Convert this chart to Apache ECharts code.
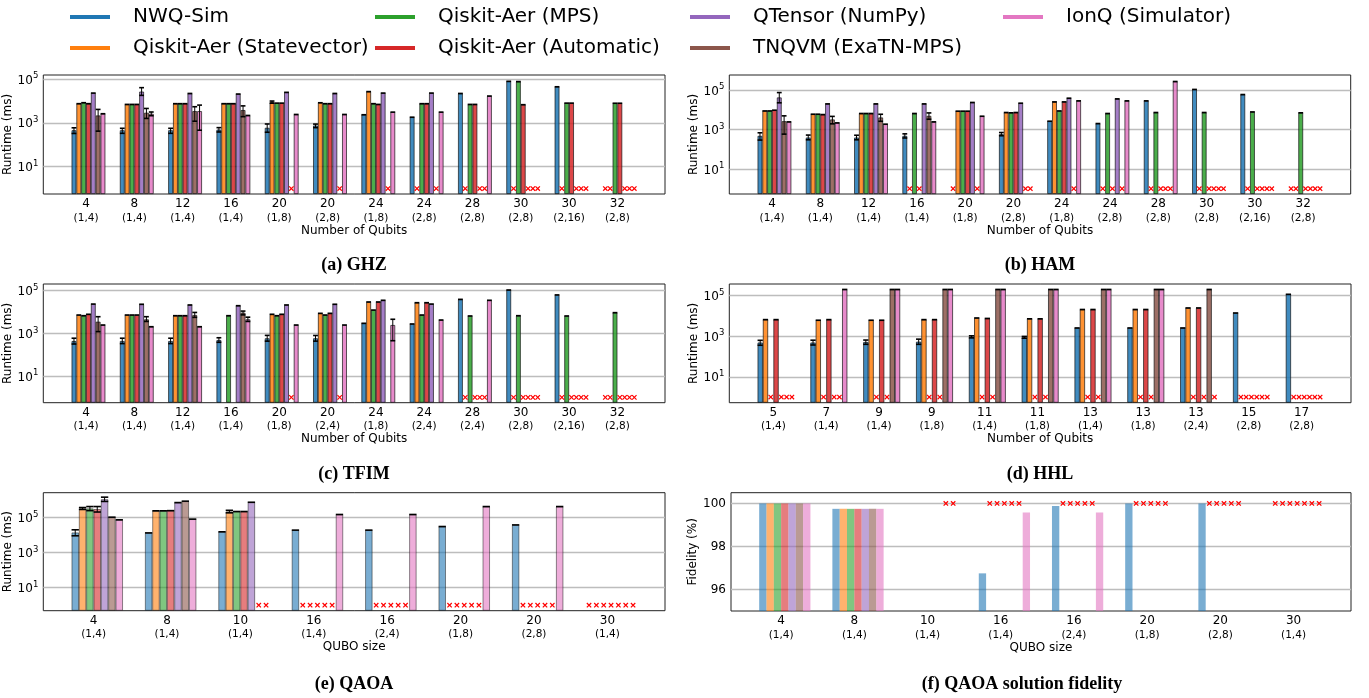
<!DOCTYPE html>
<html><head><meta charset="utf-8">
<script src="https://cdn.jsdelivr.net/npm/echarts@6/dist/echarts.min.js"></script>
<style>html,body{margin:0;padding:0;background:#fff}#c{width:1369px;height:698px}</style>
</head><body><div id="c"></div>
<script>
// ---------------- DATA ----------------
const simulators = ['NWQ-Sim','Qiskit-Aer (Statevector)','Qiskit-Aer (MPS)','Qiskit-Aer (Automatic)','QTensor (NumPy)','TNQVM (ExaTN-MPS)','IonQ (Simulator)'];
const X = 'x'; // run failed / not supported marker

// (a) GHZ
const ghzQubits  = [4,8,12,16,20,20,24,24,28,30,30,32];
const ghzConfigs = ['(1,4)','(1,4)','(1,4)','(1,4)','(1,8)','(2,8)','(1,8)','(2,8)','(2,8)','(2,8)','(2,16)','(2,8)'];
const ghzNWQ   = [457,457,457,490,590,750,2330,1800,21800,78000,44000,X];
const ghzSV    = [7450,6900,7450,7450,8800,8200,26500,X,X,X,X,X];
const ghzMPS   = [8250,6900,7450,7450,7900,7450,7450,7450,6900,76000,7900,7800];
const ghzAuto  = [7450,6900,7450,7450,7900,7450,6900,7450,6900,6700,7900,7800];
const ghzQT    = [22700,26500,21800,20500,24500,21800,22700,22700,X,X,X,X];
const ghzTN    = [2160,2870,3400,3800,X,X,X,X,X,X,X,X];
const ghzIonQ  = [2590,2590,3400,2160,2400,2400,3070,3070,16600,X,X,X];
const ghzErr   = [[0,0,325,590],[0,1,330,560],[0,2,330,560],[0,3,380,600],[0,4,370,880],[0,5,600,870],
                  [1,4,7800,9800],[4,1,17800,40000],
                  [5,0,415,4070],[5,1,1580,4500],[5,2,1180,5400],[5,3,1900,5900],
                  [6,1,2100,3100],[6,2,457,6400]];

// (b) HAM
const hamQubits  = [4,8,12,16,20,20,24,24,28,30,30,32];
const hamConfigs = ['(1,4)','(1,4)','(1,4)','(1,4)','(1,8)','(2,8)','(1,8)','(2,8)','(2,8)','(2,8)','(2,16)','(2,8)'];
const hamNWQ   = [475,390,390,475,X,580,2630,2000,28200,107000,59000,X];
const hamSV    = [8700,5950,6460,X,8470,7250,25000,X,X,X,X,X];
const hamMPS   = [8700,5950,6460,6460,8470,7000,8700,6460,7250,7250,7750,7000];
const hamAuto  = [9500,5700,6460,X,8470,7250,25000,X,X,X,X,X];
const hamQT    = [42000,19800,19800,19800,23400,21500,38500,35500,X,X,X,X];
const hamTN    = [2630,3220,4060,4900,X,X,X,X,X,X,X,X];
const hamIonQ  = [2430,2160,1860,2430,4700,X,28200,28200,270000,X,X,X];
const hamErr   = [[0,0,290,680],[0,1,300,520],[0,2,300,510],[0,3,370,600],[0,5,480,700],
                  [4,0,22400,74000],[5,0,580,4900],[5,1,1930,4600],[5,2,2600,5900],[5,3,3300,6900]];

// (c) TFIM
const tfimQubits  = [4,8,12,16,20,20,24,24,28,30,30,32];
const tfimConfigs = ['(1,4)','(1,4)','(1,4)','(1,4)','(1,8)','(2,4)','(1,8)','(2,4)','(2,4)','(2,8)','(2,16)','(2,8)'];
const tfimNWQ   = [435,435,435,485,585,585,2950,2740,39000,107000,63000,X];
const tfimSV    = [7200,7200,6700,null,7800,8650,29400,27200,X,X,X,X];
const tfimMPS   = [6700,7200,6700,6700,6700,7200,12300,7200,6500,6700,6500,9300];
const tfimAuto  = [7800,7200,6700,null,7800,8650,29400,27200,X,X,X,X];
const tfimQT    = [23500,23000,21300,19700,21300,23000,35300,23500,X,X,X,X];
const tfimTN    = [3500,4520,7200,9300,X,X,null,null,X,X,X,X];
const tfimIonQ  = [2450,2040,2040,4520,2450,2450,2450,4200,35300,X,X,X];
const tfimErr   = [[0,0,315,590],[0,1,330,590],[0,2,330,590],[0,3,380,620],[0,4,430,800],[0,5,430,790],
                   [5,0,1200,6000],[5,1,3600,6000],[5,2,5600,9500],[5,3,7300,11000],
                   [6,3,3600,5700],[6,6,450,4550]];

// (d) HHL
const hhlQubits  = [5,7,9,9,11,11,13,13,13,15,17];
const hhlConfigs = ['(1,4)','(1,4)','(1,4)','(1,8)','(1,4)','(1,8)','(1,4)','(1,8)','(2,4)','(2,8)','(2,8)'];
const hhlNWQ   = [490,490,520,540,930,880,2570,2570,2570,14100,118000];
const hhlSV    = [6650,6200,6200,6650,8000,7300,21000,21000,25000,X,X];
const hhlMPS   = [X,X,X,X,X,X,X,X,X,X,X];
const hhlAuto  = [6650,6650,6200,6650,7600,7300,21000,21000,25000,X,X];
const hhlQT    = [X,X,X,X,X,X,X,X,X,X,X];
const hhlTN    = [X,X,205000,205000,205000,205000,205000,205000,205000,X,X];
const hhlIonQ  = [X,205000,205000,205000,205000,205000,205000,205000,X,X,X];
const hhlErr   = [[0,0,360,630],[0,1,370,640],[0,2,400,650],[0,3,400,720],[0,4,830,1050],[0,5,800,980]];

// (e) QAOA runtime
const qaoaSize    = [4,8,10,16,16,20,20,30];
const qaoaConfigs = ['(1,4)','(1,4)','(1,4)','(1,4)','(2,4)','(1,8)','(2,8)','(1,4)'];
const qaoaNWQ   = [13700,13000,15000,18700,18700,30000,37000,X];
const qaoaSV    = [320000,234000,214000,X,X,X,X,X];
const qaoaMPS   = [320000,234000,214000,X,X,X,X,X];
const qaoaAuto  = [295000,240000,214000,X,X,X,X,X];
const qaoaQT    = [1070000,690000,720000,X,X,X,X,X];
const qaoaTN    = [102000,830000,X,X,X,X,X,X];
const qaoaIonQ  = [72000,79000,X,145000,145000,410000,410000,X];
const qaoaErr   = [[0,0,8900,19500],[1,0,280000,360000],[2,0,240000,410000],[3,0,200000,410000],
                   [4,0,800000,1400000],[1,2,180000,250000]];

// (f) QAOA solution fidelity (%)
const fidNWQ   = [100,99.75,null,96.75,99.88,100,100,X];
const fidSV    = [100,99.75,null,X,X,X,X,X];
const fidMPS   = [100,99.75,null,X,X,X,X,X];
const fidAuto  = [100,99.75,null,X,X,X,X,X];
const fidQT    = [100,99.75,null,X,X,X,X,X];
const fidTN    = [100,99.75,X,X,X,X,X,X];
const fidIonQ  = [100,99.75,X,99.58,99.58,null,null,X];

// ---------------- STYLE / LAYOUT ----------------
const COLORS = ['#1f77b4','#ff7f0e','#2ca02c','#d62728','#9467bd','#8c564b','#e377c2'];
const FONT = 'DejaVu Sans';
const BAR_FRAC = 0.1;    // one bar = 0.1 of the category spacing
const LABEL_SHIFT = -0.05;

const panels = [
  {vals:[ghzNWQ,ghzSV,ghzMPS,ghzAuto,ghzQT,ghzTN,ghzIonQ], err:ghzErr, cats:ghzQubits, cfg:ghzConfigs,
   grid:{left:43.3,top:75,width:621.7,height:119}, ylog:true, ymin:Math.pow(10,-0.25), ymax:Math.pow(10,5.18),
   yticks:[10,1000,100000], xname:'Number of Qubits', yname:'Runtime (ms)', alpha:0.85, edge:true, caps:true, failY:1,
   caption:'(a) GHZ', cap:[354,265]},
  {vals:[hamNWQ,hamSV,hamMPS,hamAuto,hamQT,hamTN,hamIonQ], err:hamErr, cats:hamQubits, cfg:hamConfigs,
   grid:{left:729.3,top:75,width:621.4,height:119}, ylog:true, ymin:Math.pow(10,-0.27), ymax:Math.pow(10,5.76),
   yticks:[10,1000,100000], xname:'Number of Qubits', yname:'Runtime (ms)', alpha:0.85, edge:true, caps:true, failY:1,
   caption:'(b) HAM', cap:[1040,265]},
  {vals:[tfimNWQ,tfimSV,tfimMPS,tfimAuto,tfimQT,tfimTN,tfimIonQ], err:tfimErr, cats:tfimQubits, cfg:tfimConfigs,
   grid:{left:43.3,top:284,width:621.7,height:118.7}, ylog:true, ymin:Math.pow(10,-0.25), ymax:Math.pow(10,5.31),
   yticks:[10,1000,100000], xname:'Number of Qubits', yname:'Runtime (ms)', alpha:0.85, edge:true, caps:true, failY:1,
   caption:'(c) TFIM', cap:[354,474]},
  {vals:[hhlNWQ,hhlSV,hhlMPS,hhlAuto,hhlQT,hhlTN,hhlIonQ], err:hhlErr, cats:hhlQubits, cfg:hhlConfigs,
   grid:{left:729.3,top:284,width:621.7,height:118.7}, ylog:true, ymin:Math.pow(10,-0.28), ymax:Math.pow(10,5.58),
   yticks:[10,1000,100000], xname:'Number of Qubits', yname:'Runtime (ms)', alpha:0.85, edge:true, caps:true, failY:1,
   caption:'(d) HHL', cap:[1040,474]},
  {vals:[qaoaNWQ,qaoaSV,qaoaMPS,qaoaAuto,qaoaQT,qaoaTN,qaoaIonQ], err:qaoaErr, cats:qaoaSize, cfg:qaoaConfigs,
   grid:{left:43.3,top:492.7,width:621.7,height:118}, ylog:true, ymin:Math.pow(10,-0.31), ymax:Math.pow(10,6.40),
   yticks:[10,1000,100000], xname:'QUBO size', yname:'Runtime (ms)', alpha:0.6, edge:true, caps:true, failY:1,
   caption:'(e) QAOA', cap:[354,684]},
  {vals:[fidNWQ,fidSV,fidMPS,fidAuto,fidQT,fidTN,fidIonQ], err:[], cats:qaoaSize, cfg:qaoaConfigs,
   grid:{left:731,top:492.7,width:620,height:118.3}, ylog:false, ymin:95, ymax:100.5,
   yticks:[96,98,100], xname:'QUBO size', yname:'Fidelity (%)', alpha:0.6, edge:false, caps:false, failY:100,
   caption:'(f) QAOA solution fidelity', cap:[1022,684]}
];

function capRender(params, api) {
  const x = api.value(0), lo = api.value(1), hi = api.value(2), slot = api.value(3);
  const bw = api.size([1, 0])[0] * BAR_FRAC;
  const a = api.coord([x, lo]), b = api.coord([x, hi]);
  const cx = a[0] + (slot - 3) * bw, hw = bw * 0.5;
  const st = {stroke: '#000', lineWidth: 1.6};
  const kids = [{type:'line', shape:{x1:cx-hw, y1:b[1], x2:cx+hw, y2:b[1]}, style:st}];
  if (Math.abs(a[1] - b[1]) > 1) {
    kids.push({type:'line', shape:{x1:cx, y1:a[1], x2:cx, y2:b[1]}, style:{stroke:'#000', lineWidth:1}});
    kids.push({type:'line', shape:{x1:cx-hw, y1:a[1], x2:cx+hw, y2:a[1]}, style:st});
  }
  return {type:'group', children:kids};
}
function failRender(params, api) {
  const x = api.value(0), y = api.value(1), slot = api.value(2);
  const bw = api.size([1, 0])[0] * BAR_FRAC;
  const p = api.coord([x, y]);
  const cx = p[0] + (slot - 3) * bw, cy = p[1], r = 2.2;
  const st = {stroke:'#ff0000', lineWidth:1.2};
  return {type:'group', children:[
    {type:'line', shape:{x1:cx-r, y1:cy-r, x2:cx+r, y2:cy+r}, style:st},
    {type:'line', shape:{x1:cx-r, y1:cy+r, x2:cx+r, y2:cy-r}, style:st}]};
}

const option = {animation:false, backgroundColor:'#fff', textStyle:{fontFamily:FONT},
  grid:[], xAxis:[], yAxis:[], series:[], legend:[], graphic:[]};

panels.forEach((P, g) => {
  const n = P.cats.length;
  const margin = 0.05 * ((n - 1) + 7 * BAR_FRAC) + 3.5 * BAR_FRAC;
  option.grid.push(Object.assign({show:true, borderColor:'#222', borderWidth:1, backgroundColor:'transparent'}, P.grid));
  option.xAxis.push({type:'value', gridIndex:g, min:-margin, max:(n - 1) + margin,
    axisLine:{show:false}, axisTick:{show:false}, splitLine:{show:false},
    name:P.xname, nameLocation:'middle', nameGap:29, nameTextStyle:{fontSize:12, color:'#000', fontFamily:FONT},
    axisLabel:{customValues:P.cats.map((c, k) => k + LABEL_SHIFT), margin:3, color:'#000',
      formatter:(v) => { const k = Math.round(v); return '{a|' + P.cats[k] + '}\n{b|' + P.cfg[k] + '}'; },
      rich:{a:{fontSize:12, lineHeight:14, fontFamily:FONT, color:'#000'},
            b:{fontSize:10.5, lineHeight:14, fontFamily:FONT, color:'#000'}}}});
  const yA = {type:P.ylog ? 'log' : 'value', gridIndex:g, min:P.ymin, max:P.ymax, startValue:P.ymin,
    axisLine:{show:false}, axisTick:{show:false, customValues:P.yticks},
    splitLine:{show:true, lineStyle:{color:'#bdbdbd', width:1.3}},
    name:P.yname, nameLocation:'middle', nameGap:P.ylog ? 23 : 25, nameTextStyle:{fontSize:12, color:'#000', fontFamily:FONT},
    axisLabel:{customValues:P.yticks, margin:5, color:'#000', fontSize:12}};
  if (P.ylog) {
    yA.logBase = 10;
    yA.axisLabel.formatter = (v) => '{m|10}{s|' + Math.round(Math.log10(v)) + '}';
    yA.axisLabel.rich = {m:{fontSize:12, lineHeight:15, verticalAlign:'bottom', fontFamily:FONT, color:'#000'},
                         s:{fontSize:8.5, lineHeight:9, verticalAlign:'top', fontFamily:FONT, color:'#000'}};
  } else {
    yA.axisLabel.formatter = (v) => String(v);
  }
  option.yAxis.push(yA);

  const capData = [], failData = [];
  P.vals.forEach((arr, s) => {
    const data = [];
    arr.forEach((v, k) => {
      if (typeof v === 'number') {
        data.push([k, v]);
        const e = P.err.find(r => r[0] === s && r[1] === k);
        capData.push(e ? [k, e[2], e[3], s] : [k, v, v, s]);
      } else if (v === X) {
        failData.push([k, P.failY, s]);
      }
    });
    option.series.push({type:'bar', name:simulators[s], xAxisIndex:g, yAxisIndex:g, data:data,
      barGap:'0%', barCategoryGap:'30%',
      itemStyle:{color:COLORS[s], opacity:P.alpha, borderColor:P.edge ? '#111' : 'transparent', borderWidth:P.edge ? 0.8 : 0}});
  });
  if (P.caps) {
    option.series.push({type:'custom', name:'err' + g, xAxisIndex:g, yAxisIndex:g, silent:true, z:5,
      renderItem:capRender, encode:{x:0, y:[1, 2]}, data:capData});
  }
  option.series.push({type:'custom', name:'fail' + g, xAxisIndex:g, yAxisIndex:g, silent:true, z:6,
    renderItem:failRender, encode:{x:0, y:1}, data:failData});
  option.graphic.push({type:'text', x:P.cap[0], y:P.cap[1], silent:true,
    style:{text:P.caption, align:'center', verticalAlign:'middle', fill:'#000',
      font:'bold 18px "Liberation Serif", "DejaVu Serif", serif'}});
});

// legend: 4 columns x 2 rows, column-major like the original
const legendPos = [[70,16],[70,47],[375,16],[375,47],[690,16],[690,47],[1003,16]];
simulators.forEach((name, s) => {
  option.legend.push({left:legendPos[s][0], top:legendPos[s][1] - 9, padding:0, selectedMode:false,
    icon:'rect', itemWidth:40, itemHeight:4,
    data:[{name:name, itemStyle:{color:COLORS[s], opacity:1, borderWidth:0}}],
    textStyle:{fontSize:20, color:'#000', fontFamily:FONT, padding:[0,0,0,18]}});
});

const chart = echarts.init(document.getElementById('c'), null, {renderer:'canvas'});
chart.setOption(option);
</script></body></html>
